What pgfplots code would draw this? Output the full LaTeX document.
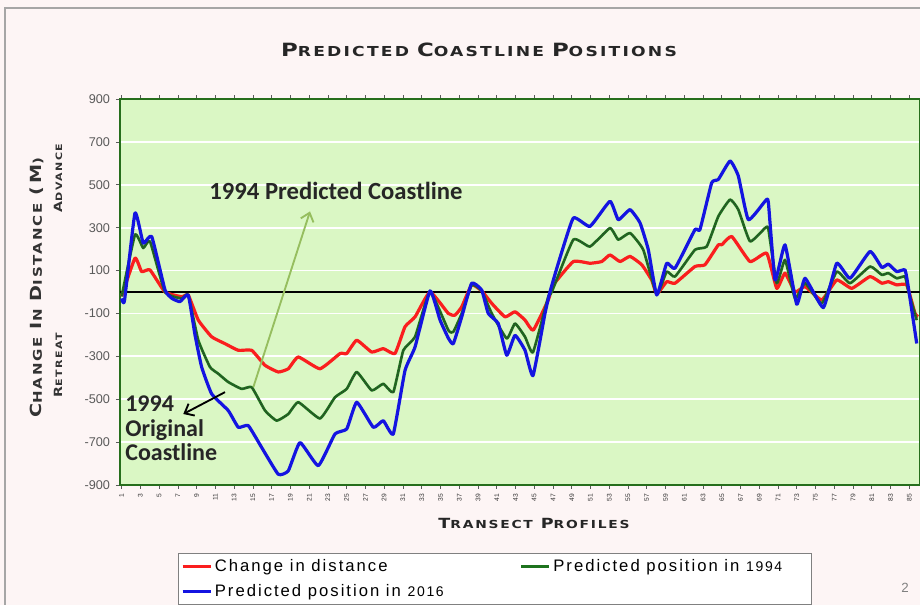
\documentclass[border=0pt]{standalone}
\usepackage{fontspec}
\setmainfont{Liberation Sans}
\newfontfamily\calib{Carlito}
\newfontfamily\widefont[LetterSpace=16, FakeStretch=1.25]{DejaVu Sans}
\newfontfamily\legfont[LetterSpace=12]{Liberation Sans}
\usepackage{pgfplots}
\pgfplotsset{compat=1.18}
\usepackage{pgfplotstable}
\usetikzlibrary{arrows.meta}

\definecolor{plotbg}{RGB}{218,247,196}
\definecolor{framegreen}{RGB}{38,110,28}
\definecolor{slide}{RGB}{253,245,245}
\definecolor{cred}{RGB}{250,30,30}
\definecolor{cgreen}{RGB}{30,115,30}
\definecolor{cblue}{RGB}{20,20,225}
\definecolor{arrowgreen}{RGB}{150,190,95}
\definecolor{ticktext}{RGB}{90,90,90}

% fake small caps: {big size}{small size}{first letter}{rest}
\newcommand\capw[4]{{\fontsize{#1}{#1}\selectfont#3}{\fontsize{#2}{#2}\selectfont#4}}

% change in distance
\pgfplotstableread{
x y
1.00 -20
2.42 158
3.13 95
4.02 103
5.62 0
7.40 -22
8.10 -14
9.17 -131
10.60 -209
12.02 -241
13.44 -272
14.87 -272
16.29 -342
17.70 -373
18.77 -358
19.84 -303
22.15 -358
24.29 -287
25.00 -287
26.07 -225
27.67 -280
28.90 -264
30.15 -287
31.22 -162
32.29 -116
33.89 0
35.84 -100
36.55 -108
37.27 -69
38.33 33
39.40 5
40.47 -53
41.89 -116
42.95 -92
44.02 -131
44.90 -178
46.50 -37
47.04 33
49.17 142
50.95 134
52.20 142
53.08 173
54.15 142
55.22 166
56.47 127
57.53 56
58.07 -10
59.13 48
60.02 41
62.15 119
63.21 127
64.64 220
65.00 220
66.07 259
68.02 142
69.80 181
70.87 17
71.75 88
72.82 0
73.89 25
75.67 -37
77.27 56
78.87 17
80.82 72
82.07 41
82.77 48
83.67 33
84.73 33
85.62 -100
85.94 -115
}\redtab

% predicted position in 1994
\pgfplotstableread{
x y
1.00 -20
2.42 267
3.30 205
4.02 236
5.62 0
7.40 -30
8.10 -14
9.17 -225
10.42 -350
11.30 -381
12.37 -420
13.80 -452
14.87 -444
16.29 -553
17.53 -600
18.77 -569
19.84 -514
22.15 -590
23.75 -491
25.00 -452
26.07 -373
27.67 -459
28.90 -428
29.97 -467
31.04 -272
32.29 -209
33.89 0
35.84 -178
36.37 -186
37.27 -100
38.33 33
39.40 5
40.47 -100
42.07 -217
42.95 -147
44.02 -209
44.87 -281
46.50 -22
46.87 0
49.17 244
50.95 212
53.08 298
53.97 244
55.22 275
56.63 197
58.07 -10
59.13 95
60.02 72
62.15 197
63.40 212
64.64 353
65.89 431
66.77 384
68.02 236
69.62 298
69.97 295
70.87 41
71.75 150
72.82 -30
73.89 41
75.67 -53
77.27 95
78.69 41
80.82 119
82.07 80
82.77 88
83.67 64
84.55 72
84.91 5
85.80 -131
}\greentab

% predicted position in 2016
\pgfplotstableread{
x y
1.00 -30
1.30 -40
2.42 369
3.30 228
4.20 259
5.62 10
6.37 -30
7.22 -45
8.10 -14
8.82 -200
9.53 -350
10.60 -475
12.37 -553
13.44 -631
14.50 -623
15.93 -725
17.70 -850
18.77 -834
20.02 -702
21.97 -810
23.75 -662
25.00 -639
26.07 -514
27.84 -631
28.90 -600
29.97 -662
31.22 -366
32.29 -256
33.89 5
34.95 -130
35.84 -215
36.37 -241
37.27 -116
38.33 41
39.40 9
40.10 -100
41.17 -147
42.07 -295
42.95 -202
44.02 -272
44.87 -390
46.15 -100
46.68 0
47.57 134
49.17 345
50.95 306
53.08 423
53.97 337
55.22 384
56.29 322
57.17 197
58.07 -14
59.13 134
60.02 111
62.15 291
62.68 291
63.93 509
64.64 525
65.89 611
66.77 541
67.84 337
69.62 423
69.97 420
70.69 56
71.75 220
73.00 -57
73.89 64
75.84 -73
77.27 134
78.69 64
80.82 189
82.07 115
82.77 130
83.67 95
84.55 103
84.91 20
85.80 -240
}\bluetab

\begin{document}
\begin{tikzpicture}
% slide background, coordinates in pixels of the 920x605 picture
\begin{scope}[shift={(-90pt,363.75pt)}, x=0.75pt, y=-0.75pt]
  \fill[slide] (0,0) rectangle (920,605);
  \draw[gray!70, line width=1.5pt] (5,605) -- (5,8) -- (920,8);
\end{scope}

\begin{axis}[
  at={(0,0)}, anchor=south west,
  scale only axis,
  width=600pt, height=289.5pt,
  xmin=0.82, xmax=86.15,
  ymin=-900, ymax=900,
  axis background/.style={fill=plotbg},
  axis line style={framegreen, line width=2pt},
  ymajorgrids,
  grid style={white, line width=1.4pt},
  ytick={-900,-700,...,900},
  xtick={1,3,...,85},
  tick align=outside,
  major tick length=3pt,
  tick style={ticktext, line width=0.5pt},
  /pgf/number format/assume math mode=true,
  yticklabel style={font=\fontsize{9.5}{10}\selectfont, text=ticktext, xshift=-1pt},
  xticklabel style={font=\fontsize{5}{5}\selectfont, rotate=90, anchor=east, text=black!80},
  legend columns=2,
  legend cell align=left,
  legend image code/.code={\draw[#1, line width=2.2pt] (0pt,0pt) -- (21pt,0pt);},
  legend style={
    at={(rel axis cs:0.0726,-0.175)}, anchor=north west,
    draw=gray, line width=0.8pt, fill=white,
    font=\legfont\fontsize{12.5}{13}\selectfont,
    inner xsep=2pt, inner ysep=2.5pt,
    row sep=4.5pt,
    /tikz/every even column/.append style={column sep=55pt},
  },
  clip=true,
]
\addplot[black, line width=1.6pt, forget plot] coordinates {(0.82,0) (86.15,0)};
\addplot[cred, line width=2.4pt, line join=round, smooth, tension=0.25] table[x=x, y=y] {\redtab};
\addlegendentry{Change in distance}
\addplot[cgreen, line width=2pt, line join=round, smooth, tension=0.25] table[x=x, y=y] {\greentab};
\addlegendentry{Predicted position in {\fontsize{10.5}{11}\selectfont 1994}\hspace*{18pt}}
\addplot[black!80, line width=0.7pt, densely dotted, smooth, tension=0.25, forget plot] table[x=x, y=y] {\greentab};
\addplot[cblue, line width=2.4pt, line join=round, smooth, tension=0.25] table[x=x, y=y] {\bluetab};
\addlegendentry{Predicted position in {\fontsize{10.5}{11}\selectfont 2016}}

% annotations
\draw[arrowgreen, line width=1.4pt, -{Straight Barb[length=6pt,width=10pt]}]
  (axis cs:15.04,-444) -- (axis cs:21.09,376);
\draw[black, line width=1.4pt, -{Straight Barb[length=6pt,width=10pt]}]
  (axis cs:12.02,-467) -- (axis cs:7.57,-569);
\node[font=\calib\bfseries\fontsize{18.5}{20}\selectfont, text=black!85] at (axis cs:23.86,469) {1994 Predicted Coastline};
\node[font=\calib\bfseries\fontsize{18}{18.4}\selectfont, text=black!85, align=left, anchor=west, inner sep=0pt]
  at (axis cs:1.36,-637) {1994\\Original\\Coastline};
\end{axis}

% titles and side labels, in pixels of the 920x605 picture
\begin{scope}[shift={(-90pt,363.75pt)}, x=0.75pt, y=-0.75pt]
  \node[font=\widefont\bfseries, text=black!85] at (479,50)
    {\capw{13.7}{10.3}{P}{REDICTED} \capw{13.7}{10.3}{C}{OASTLINE} \capw{13.7}{10.3}{P}{OSITIONS}};
  \node[font=\widefont\bfseries, text=black!80, rotate=90] at (37,288)
    {\capw{11.5}{9}{C}{HANGE} \capw{11.5}{9}{I}{N} \capw{11.5}{9}{D}{ISTANCE} \capw{11.5}{9}{(M}{)}};
  \node[font=\widefont\bfseries, text=black!80, rotate=90] at (58,178)
    {\capw{8.5}{6.6}{A}{DVANCE}};
  \node[font=\widefont\bfseries, text=black!80, rotate=90] at (58,365)
    {\capw{8.5}{6.6}{R}{ETREAT}};
  \node[font=\widefont\bfseries, text=black!85] at (534,523)
    {\capw{10.5}{8.3}{T}{RANSECT} \capw{10.5}{8.3}{P}{ROFILES}};
  \node[font=\fontsize{10}{11}\selectfont, text=gray] at (905,588) {2};
\end{scope}

\pgfresetboundingbox
\begin{scope}[shift={(-90pt,363.75pt)}, x=0.75pt, y=-0.75pt]
  \path[use as bounding box] (0,0) rectangle (920,605);
\end{scope}
\end{tikzpicture}
\end{document}
